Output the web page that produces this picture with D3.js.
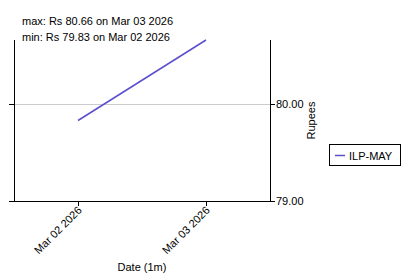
<!DOCTYPE html>
<html>
<head>
<meta charset="utf-8">
<script src="https://cdn.jsdelivr.net/npm/d3@7"></script>
<style>
  body { margin: 0; background: #fff; }
  svg { display: block; font-family: "Liberation Sans", Arial, sans-serif; }
</style>
</head>
<body>
<svg width="402" height="275"></svg>
<script>
// data
var dates = ["2026-03-02", "2026-03-03"];
var prices = [79.83, 80.66];
var yTicks = [79, 80];
var seriesName = "ILP-MAY";

var parse = d3.timeParse("%Y-%m-%d");
var fmtDate = d3.timeFormat("%b %d %Y");
var data = dates.map(function(d, i) { return { date: parse(d), value: prices[i] }; });

var svg = d3.select("svg");
var mLeft = 14, mRight = 270, mTop = 40, mBottom = 201;

var x = d3.scaleTime()
    .domain([d3.timeHour.offset(data[0].date, -12), d3.timeHour.offset(data[1].date, 12)])
    .range([mLeft, mRight]);
var y = d3.scaleLinear().domain([79, 80.66]).range([mBottom, mTop]);

// grid
svg.append("g").selectAll("line")
  .data([80]).enter().append("line")
    .attr("x1", mLeft).attr("x2", mRight)
    .attr("y1", function(d) { return Math.round(y(d)) + 0.5; })
    .attr("y2", function(d) { return Math.round(y(d)) + 0.5; })
    .attr("stroke", "#ccc").attr("stroke-width", 1);

// left axis, no labels
var gl = svg.append("g").attr("transform", "translate(" + mLeft + ",0)")
  .call(d3.axisLeft(y).tickValues(yTicks).tickSize(5).tickFormat("").tickSizeOuter(0));
gl.select(".domain").attr("d", "M0.5," + mTop + "V" + mBottom);

// right axis
var gr = svg.append("g").attr("transform", "translate(" + mRight + ",0)")
  .call(d3.axisRight(y).tickValues(yTicks).tickSize(5).tickFormat(d3.format(".2f")).tickSizeOuter(0));
gr.select(".domain").attr("d", "M0.5," + mTop + "V" + mBottom);
gr.selectAll("text").attr("font-size", 11).attr("font-family", "Liberation Sans, Arial").attr("fill", "#000").attr("x", 6);

svg.append("text")
  .attr("transform", "translate(315," + ((mTop + mBottom) / 2) + ") rotate(-90)")
  .attr("text-anchor", "middle")
  .attr("font-size", 11)
  .text("Rupees");

// bottom axis
var gb = svg.append("g").attr("transform", "translate(0," + mBottom + ")")
  .call(d3.axisBottom(x).tickValues(data.map(function(d) { return d.date; }))
    .tickFormat(fmtDate).tickSize(5).tickSizeOuter(0));
gb.select(".domain").attr("d", "M" + mLeft + ",0.5H" + mRight);
gb.selectAll("text")
  .attr("font-size", 11).attr("font-family", "Liberation Sans, Arial").attr("fill", "#000")
  .attr("text-anchor", "end")
  .attr("dy", null).attr("y", 0)
  .attr("transform", "translate(4,10) rotate(-45)");

svg.append("text")
  .attr("x", (mLeft + mRight) / 2).attr("y", 271)
  .attr("text-anchor", "middle").attr("font-size", 11)
  .text("Date (1m)");

// line
var line = d3.line().x(function(d) { return x(d.date); }).y(function(d) { return y(d.value); });
svg.append("path").datum(data)
  .attr("d", line).attr("fill", "none")
  .attr("stroke", "#5b4fcb").attr("stroke-width", 1.5);

// max/min labels
var maxD = data[d3.maxIndex(data, function(d) { return d.value; })];
var minD = data[d3.minIndex(data, function(d) { return d.value; })];
svg.append("text").attr("x", 22).attr("y", 25).attr("font-size", 11)
  .text("max: Rs " + maxD.value.toFixed(2) + " on " + fmtDate(maxD.date));
svg.append("text").attr("x", 22).attr("y", 41).attr("font-size", 11)
  .text("min: Rs " + minD.value.toFixed(2) + " on " + fmtDate(minD.date));

// legend
var lg = svg.append("g").attr("transform", "translate(329,144)");
lg.append("rect").attr("x", 0.5).attr("y", 0.5).attr("width", 71).attr("height", 21)
  .attr("fill", "#fff").attr("stroke", "#000");
lg.append("line").attr("x1", 6).attr("x2", 16).attr("y1", 11.5).attr("y2", 11.5)
  .attr("stroke", "#5b4fcb").attr("stroke-width", 1.5);
lg.append("text").attr("x", 20).attr("y", 15.5).attr("font-size", 11).text(seriesName);
</script>
</body>
</html>
